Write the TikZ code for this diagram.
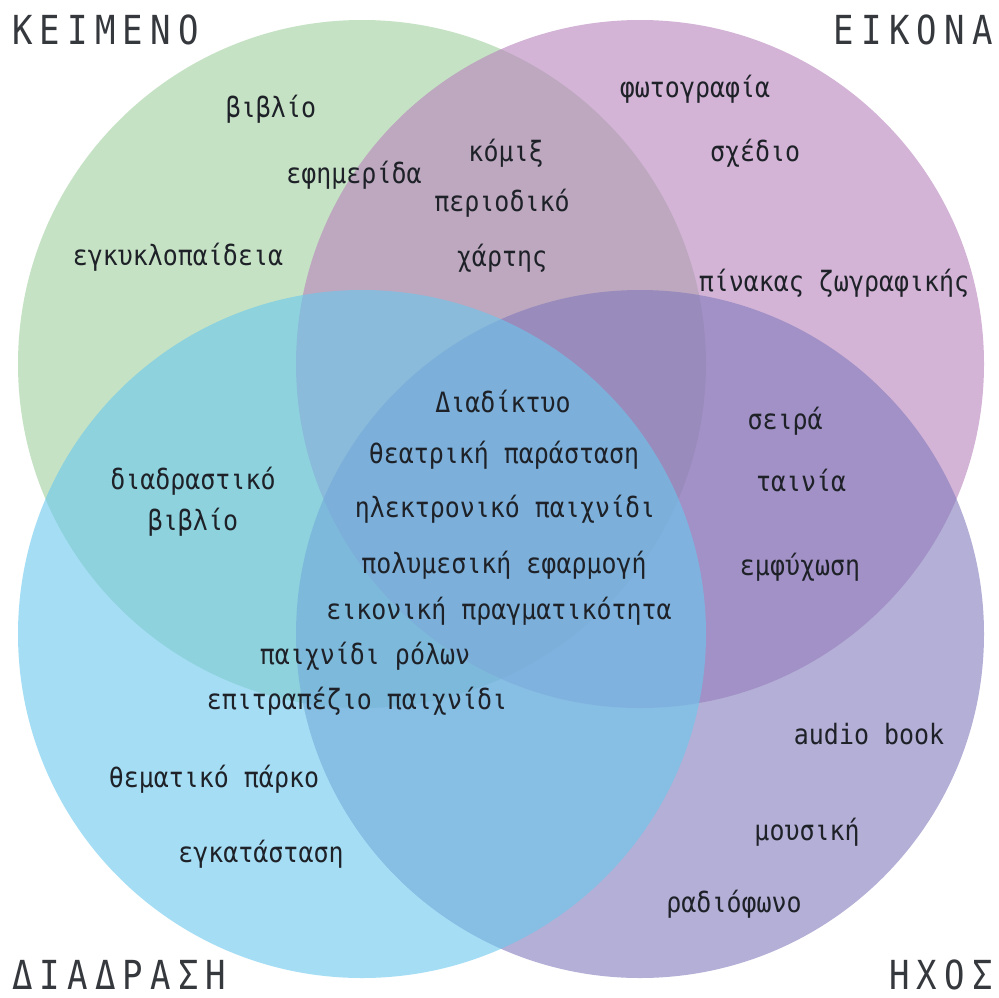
\documentclass[tikz,border=0pt]{standalone}
\usepackage{fontspec}
\newfontfamily\labelfont[FakeStretch=0.89]{DejaVu Sans Mono}
\newfontfamily\titlefont[FakeStretch=0.85,LetterSpace=18]{DejaVu Sans Mono}

% set colours (drawn at 60% opacity, so overlaps mix)
\definecolor{textset}{RGB}{160,208,157}
\definecolor{imageset}{RGB}{183,130,188}
\definecolor{soundset}{RGB}{130,122,188}
\definecolor{interset}{RGB}{105,200,238}
\definecolor{ink}{RGB}{30,34,40}

\tikzset{
  setdisc/.style={fill opacity=0.6},
  lbl/.style={font=\labelfont\fontsize{28}{41}\selectfont, text=ink, inner sep=0pt, anchor=base},
  ttl/.style={font=\titlefont\fontsize{40}{44}\selectfont, text=ink!90, inner sep=0pt},
}

\begin{document}
\begin{tikzpicture}[x=1pt,y=-1pt]
  \fill[white] (0,0) rectangle (998,998);
  \useasboundingbox (0,0) rectangle (998,998);

  % the four sets
  \fill[setdisc, textset]  (362,364) circle (344);
  \fill[setdisc, imageset] (640,364) circle (344);
  \fill[setdisc, soundset] (640,634) circle (344);
  \fill[setdisc, interset] (362,634) circle (344);

  % set titles
  \node[ttl, anchor=base west] (tKeimeno) at (12,45) {ΚΕΙΜΕΝΟ};
  \node[ttl, anchor=base east] (tEikona) at (993,45) {ΕΙΚΟΝΑ};
  \node[ttl, anchor=base west] (tDiadrasi) at (12,989) {ΔΙΑΔΡΑΣΗ};
  \node[ttl, anchor=base east] (tIchos) at (993,989) {ΗΧΟΣ};

  % text only
  \node[lbl] (vivlio) at (271,117) {βιβλίο};
  \node[lbl] (efimerida) at (354,183) {εφημερίδα};
  \node[lbl] (egkyklopaideia) at (178,265) {εγκυκλοπαίδεια};

  % text and image
  \node[lbl] (komix) at (506,161) {κόμιξ};
  \node[lbl] (periodiko) at (502,211) {περιοδικό};
  \node[lbl] (chartis) at (502,266) {χάρτης};

  % image only
  \node[lbl] (fotografia) at (695,97) {φωτογραφία};
  \node[lbl] (schedio) at (755,161) {σχέδιο};
  \node[lbl] (pinakas) at (834,291) {πίνακας ζωγραφικής};

  % all four sets
  \node[lbl] (diadiktyo) at (503,412) {Διαδίκτυο};
  \node[lbl] (theatro) at (504,463) {θεατρική παράσταση};
  \node[lbl] (ilektroniko) at (505,517) {ηλεκτρονικό παιχνίδι};
  \node[lbl] (polymesiki) at (504,573) {πολυμεσική εφαρμογή};
  \node[lbl] (eikoniki) at (499,619) {εικονική πραγματικότητα};
  \node[lbl] (rolon) at (365,664) {παιχνίδι ρόλων};
  \node[lbl] (epitrapezio) at (357,709) {επιτραπέζιο παιχνίδι};

  % text and interaction (base anchor sits on the last line)
  \node[lbl, align=center] (diadrastiko) at (193,530) {διαδραστικό\\βιβλίο};

  % interaction only
  \node[lbl] (parko) at (214,787) {θεματικό πάρκο};
  \node[lbl] (egkatastasi) at (261,862) {εγκατάσταση};

  % image and sound
  \node[lbl] (seira) at (785,429) {σειρά};
  \node[lbl] (tainia) at (801,491) {ταινία};
  \node[lbl] (emfychosi) at (800,575) {εμφύχωση};

  % sound only
  \node[lbl] (audiobook) at (869,744) {audio book};
  \node[lbl] (mousiki) at (807,840) {μουσική};
  \node[lbl] (radiofono) at (734,912) {ραδιόφωνο};
\end{tikzpicture}
\end{document}
